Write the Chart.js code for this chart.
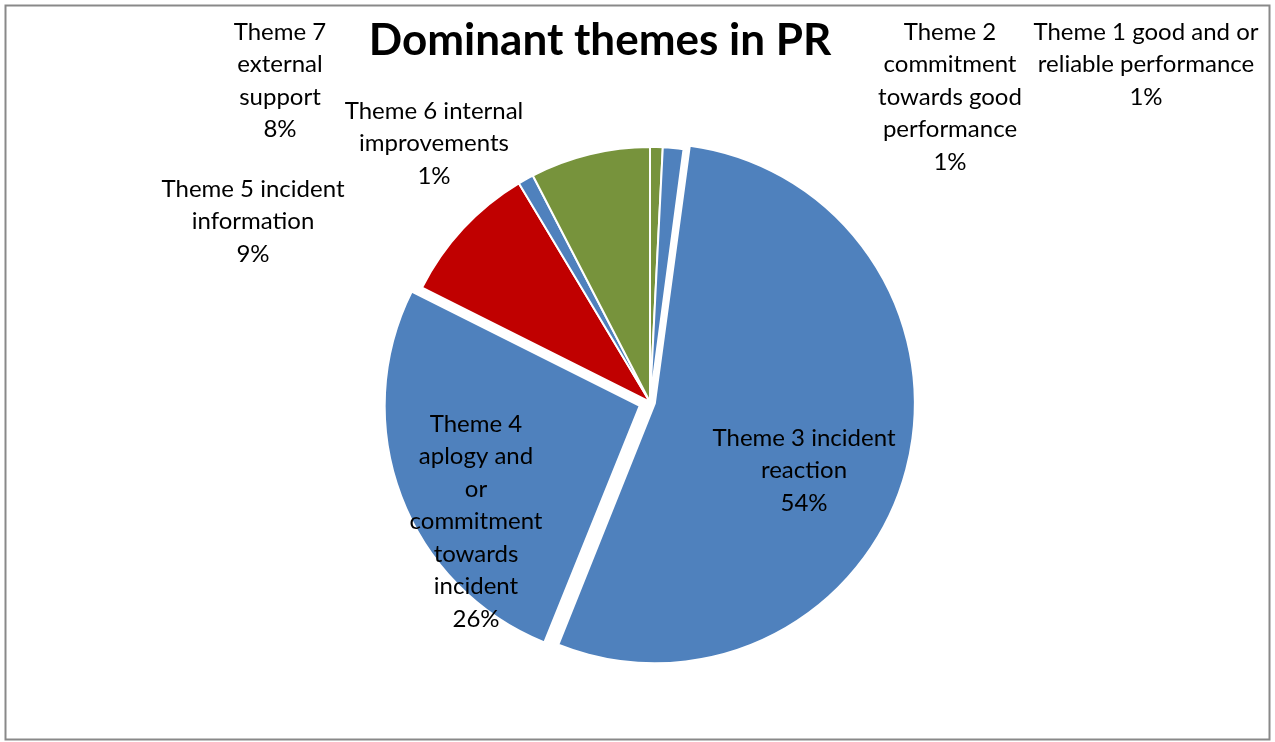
<!DOCTYPE html>
<html>
<head>
<meta charset="utf-8">
<title>Dominant themes in PR</title>
<script src="https://cdn.jsdelivr.net/npm/chart.js@4.4.1/dist/chart.umd.min.js"></script>
<style>
    html, body { margin: 0; padding: 0; background: #fff; }
    canvas { display: block; }
</style>
</head>
<body>
<canvas id="pieChart" width="1275" height="742"></canvas>
<script>
// data (percent of all PR items)
var temas = [
    'Theme 1 good and or reliable performance',
    'Theme 2 commitment towards good performance',
    'Theme 3 incident reaction',
    'Theme 4 aplogy and or commitment towards incident',
    'Theme 5 incident information',
    'Theme 6 internal improvements',
    'Theme 7 external support'
];
var valores = [0.8, 1.3, 54.0, 26.3, 9.0, 1.0, 7.6];

// how Excel wrapped each data label (the % line is added below)
var linhasRotulo = [
    ['Theme 1 good and or', 'reliable performance'],
    ['Theme 2', 'commitment', 'towards good', 'performance'],
    ['Theme 3 incident', 'reaction'],
    ['Theme 4', 'aplogy and', 'or', 'commitment', 'towards', 'incident'],
    ['Theme 5 incident', 'information'],
    ['Theme 6 internal', 'improvements'],
    ['Theme 7', 'external', 'support']
];

var titulo = 'Dominant themes in PR';

// styling / placement
var cores = ['#77933C', '#4F81BD', '#4F81BD', '#4F81BD', '#C00000', '#4F81BD', '#77933C'];
// chart.js draws offset/4 (+ a bit more for slices wider than 180deg)
var destaque = [0, 0, 20, 44, 0, 0, 0];
var posRotulo = [[1146, 32], [950, 32], [804, 438], [476, 424], [253, 189], [434, 111], [280, 32]];
var alturaLinha = 32.5;
var fonte = 'Lato, "Open Sans", sans-serif';

var rotulosPlugin = {
    id: 'rotulos',
    beforeDraw: function (chart) {
        var ctx = chart.ctx;
        ctx.save();
        ctx.fillStyle = '#fff';
        ctx.fillRect(0, 0, chart.width, chart.height);
        ctx.restore();
    },
    afterDraw: function (chart) {
        var ctx = chart.ctx;
        var total = valores.reduce(function (a, b) { return a + b; }, 0);
        ctx.save();

        // frame
        ctx.strokeStyle = '#898989';
        ctx.lineWidth = 2;
        ctx.strokeRect(5.5, 5.5, 1264, 734);

        // title
        ctx.fillStyle = '#000';
        ctx.textAlign = 'center';
        ctx.textBaseline = 'alphabetic';
        ctx.font = 'bold 44px ' + fonte;
        ctx.fillText(titulo, 600, 55);

        // data labels
        ctx.font = '24px ' + fonte;
        ctx.textBaseline = 'middle';
        for (var i = 0; i < temas.length; i++) {
            var pct = Math.round(valores[i] / total * 100) + '%';
            var linhas = linhasRotulo[i].concat([pct]);
            for (var j = 0; j < linhas.length; j++) {
                ctx.fillText(linhas[j], posRotulo[i][0], posRotulo[i][1] + j * alturaLinha);
            }
        }
        ctx.restore();
    }
};

var pieCtx = document.getElementById('pieChart').getContext('2d');

var pieChart = new Chart(pieCtx, {
    type: 'pie',
    data: {
        labels: temas,
        datasets: [{
            label: titulo,
            data: valores,
            backgroundColor: cores,
            borderColor: '#fff',
            borderWidth: 2,
            offset: destaque
        }]
    },
    options: {
        responsive: false,
        animation: false,
        radius: 255,
        layout: {
            padding: { left: 125, right: 100, top: 131, bottom: 69 }
        },
        plugins: {
            legend: { display: false },
            tooltip: { enabled: false },
            title: { display: false }
        }
    },
    plugins: [rotulosPlugin]
});
</script>
</body>
</html>
